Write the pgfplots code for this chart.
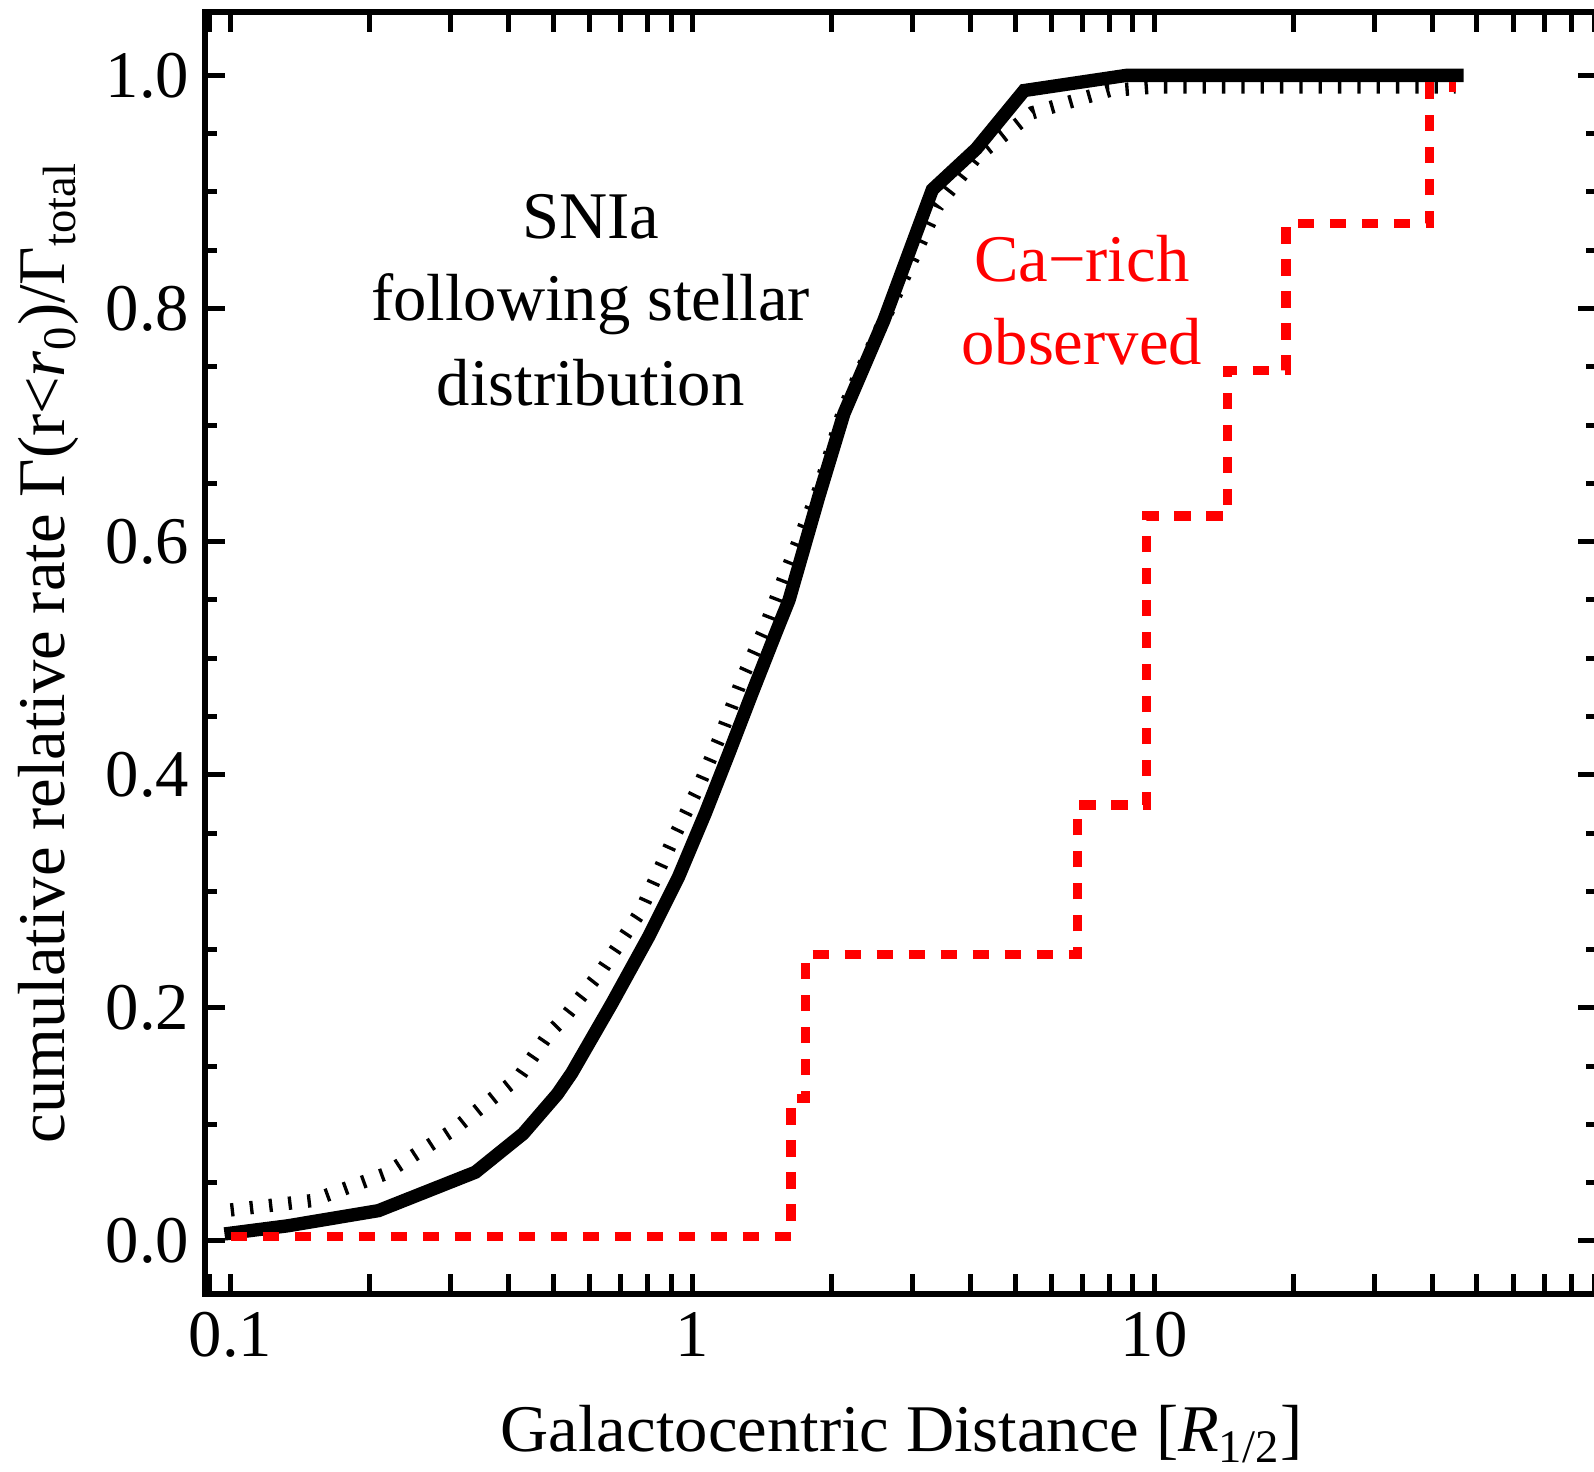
\documentclass[border=0pt]{standalone}
\usepackage{pgfplots}
\pgfplotsset{compat=1.18}
\usepackage{fontspec}
\setmainfont{Liberation Serif}
\begin{document}
\fontsize{20}{25}\selectfont
\begin{tikzpicture}
\begin{axis}[
  name=ax,
  scale only axis,
  width=417.9pt, height=384.7pt,
  xmode=log,
  xmin=0.088, xmax=91.5,
  ymin=-0.0455, ymax=1.0547,
  axis line style={line width=1.8pt},
  every tick/.style={black, line width=1.5pt},
  major tick length=6pt,
  minor tick length=3.5pt,
  xtick={0.1,1,10},
  xticklabels={0.1,1,10},
  xminorticks=false,
  extra x ticks={0.09,0.2,0.3,0.4,0.5,0.6,0.7,0.8,0.9,2,3,4,5,6,7,8,9,20,30,40,50,60,70,80,90},
  extra x tick labels={},
  ytick={0,0.2,0.4,0.6,0.8,1},
  minor y tick num=3,
  /pgf/number format/assume math mode=true,
  /pgf/number format/fixed,
  /pgf/number format/fixed zerofill,
  /pgf/number format/precision=1,
  ticklabel style={font=\fontsize{20}{24}\selectfont},
  yticklabel style={anchor=east, inner sep=0pt, xshift=-4.5pt},
  xticklabel style={anchor=north, inner sep=0pt, yshift=-5.3pt},
  xlabel={Galactocentric Distance [\textit{R}\textsubscript{1/2}]},
  ylabel={cumulative relative rate Γ(r<\textit{r}\textsubscript{0})/Γ\textsubscript{total}},
  xlabel style={at={(axis description cs:0.5,-0.123)}, anchor=base, inner sep=0pt},
  ylabel style={at={(axis description cs:-0.1005,0.5)}, anchor=base, inner sep=0pt},
  label style={font=\fontsize{20}{24}\selectfont},
]
% model, alternative profile (dotted)
\addplot[black, line width=4pt, dash pattern=on 1pt off 4.8pt] coordinates {
  (0.1,0.0266) (0.150,0.0346) (0.216,0.0575) (0.302,0.0947) (0.421,0.1405)
  (0.489,0.178) (0.531,0.1925) (0.637,0.2325) (0.772,0.2825) (0.903,0.3426)
  (1.032,0.3898) (1.16,0.437) (1.292,0.4856) (1.428,0.524) (1.6,0.575)
  (1.88,0.645) (2.13,0.715) (2.6,0.79) (3.4,0.888) (4.12,0.93)
  (5.45,0.968) (8.0,0.987) (10,0.99) (45,0.99)
};
% SNIa following the stellar distribution (solid)
\addplot[black, line width=4pt] coordinates {
  (0.097,0.006) (0.133,0.013) (0.209,0.026) (0.339,0.059) (0.43,0.092)
  (0.51,0.126) (0.548,0.144) (0.670,0.204) (0.804,0.261) (0.934,0.3126)
  (1.067,0.367) (1.199,0.418) (1.347,0.470) (1.514,0.521) (1.62,0.55)
  (1.88,0.639) (2.13,0.710) (2.6,0.79)
  (3.31,0.902) (4.12,0.937) (5.23,0.987) (8.7,1.0) (46.8,1.0)
};
% observed Ca-rich transients, cumulative fraction
\addplot[red, line width=2.8pt, dash pattern=on 4.9pt off 4.7pt, const plot] coordinates {
  (0.1,0.004) (1.636,0.122) (1.759,0.246) (6.83,0.374) (9.63,0.622)
  (14.4,0.747) (19.3,0.873) (39.5,0.99) (45.1,0.99)
};
\node[anchor=base] at (axis cs:0.602,0.860) {SNIa};
\node[anchor=base] at (axis cs:0.602,0.790) {following stellar};
\node[anchor=base] at (axis cs:0.602,0.717) {distribution};
\node[anchor=base, text=red] at (axis cs:6.97,0.823) {Ca−rich};
\node[anchor=base, text=red] at (axis cs:6.97,0.752) {observed};
\end{axis}
\pgfresetboundingbox
\path[use as bounding box] ([xshift=-61.5pt,yshift=-53.4pt]ax.south west) rectangle ([xshift=-1.2pt,yshift=3.5pt]ax.north east);
\end{tikzpicture}
\end{document}
